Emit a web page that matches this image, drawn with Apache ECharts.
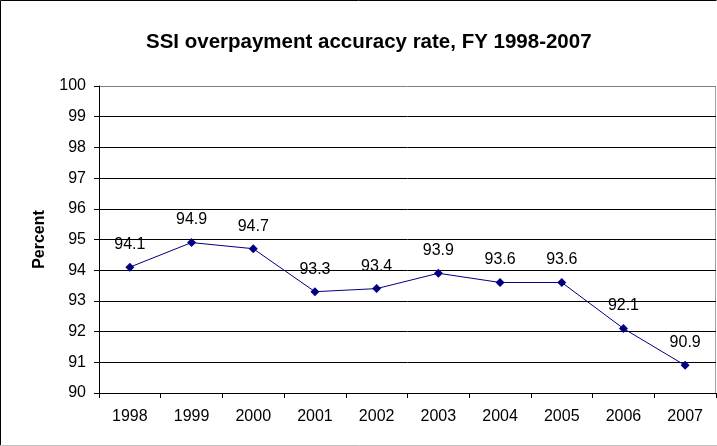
<!DOCTYPE html>
<html>
<head>
<meta charset="utf-8">
<script src="https://cdn.jsdelivr.net/npm/echarts@6/dist/echarts.min.js"></script>
<style>
html, body { margin: 0; padding: 0; background: #fff; }
#main { width: 717px; height: 446px; }
</style>
</head>
<body>
<div id="main"></div>
<script>
var years = ['1998', '1999', '2000', '2001', '2002', '2003', '2004', '2005', '2006', '2007'];
var rates = [94.1, 94.9, 94.7, 93.3, 93.4, 93.9, 93.6, 93.6, 92.1, 90.9];

var myChart = echarts.init(document.getElementById('main'));

// gridline colours, bottom to top: the top one is the grey plot border
var gridColors = ['#000', '#000', '#000', '#000', '#000', '#000', '#000', '#000', '#000', '#000', '#808080'];

var option = {
  backgroundColor: '#fff',
  animation: false,
  title: {
    text: 'SSI overpayment accuracy rate, FY 1998-2007',
    left: 141,
    top: 27,
    textStyle: { fontFamily: 'Liberation Sans', fontWeight: 'bold', fontSize: 20.5, color: '#000' }
  },
  graphic: [{
    type: 'polyline',
    shape: { points: [[0.5, 445.5], [0.5, 0.5], [716.5, 0.5]] },
    style: { fill: 'none', stroke: '#000', lineWidth: 1 },
    silent: true
  }, {
    type: 'line',
    shape: { x1: 0, y1: 445.5, x2: 717, y2: 445.5 },
    style: { stroke: '#c0c0c0', lineWidth: 1 },
    silent: true
  }, {
    type: 'line',
    shape: { x1: 715.5, y1: 86, x2: 715.5, y2: 393 },
    style: { stroke: '#a0a0a0', lineWidth: 1 },
    silent: true
  }],
  grid: { left: 99, right: 1, top: 86, bottom: 53 },
  xAxis: {
    type: 'category',
    data: years,
    boundaryGap: true,
    axisLine: { lineStyle: { color: '#000' } },
    axisTick: { show: true, alignWithLabel: false, length: 5, lineStyle: { color: '#000' } },
    axisLabel: { fontFamily: 'Liberation Sans', fontSize: 16, color: '#000', margin: 16 }
  },
  yAxis: {
    type: 'value',
    min: 90,
    max: 100,
    interval: 1,
    name: 'Percent',
    nameLocation: 'middle',
    nameGap: 51,
    nameRotate: 90,
    nameTextStyle: { fontFamily: 'Liberation Sans', fontWeight: 'bold', fontSize: 16, color: '#000' },
    axisLine: { show: true, lineStyle: { color: '#000' } },
    axisTick: { show: true, length: 5, lineStyle: { color: '#000' } },
    axisLabel: { fontFamily: 'Liberation Sans', fontSize: 16, color: '#000', margin: 13 },
    splitLine: { show: true, lineStyle: { color: gridColors, width: 1 } }
  },
  series: [{
    type: 'line',
    data: rates,
    symbol: 'diamond',
    symbolSize: 9,
    lineStyle: { color: '#000080', width: 1 },
    itemStyle: { color: '#000080' },
    label: {
      show: true,
      position: 'top',
      distance: 10,
      fontFamily: 'Liberation Sans',
      fontSize: 16,
      color: '#000'
    }
  }]
};

myChart.setOption(option);
</script>
</body>
</html>
